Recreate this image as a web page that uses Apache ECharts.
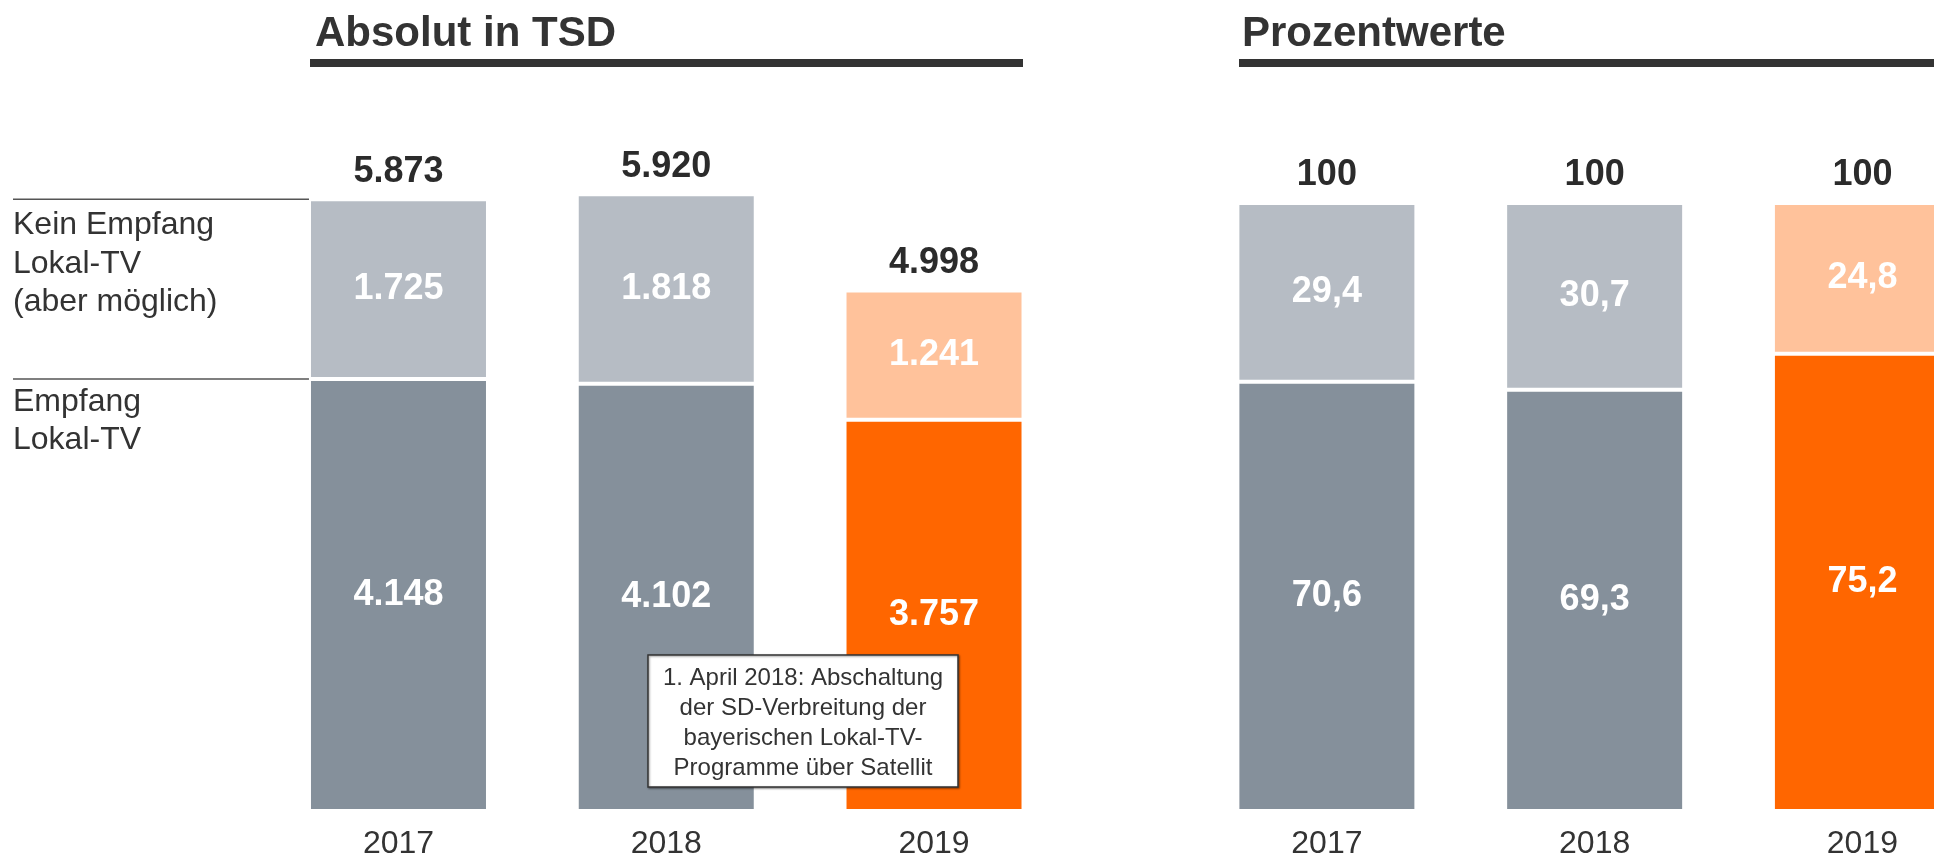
<!DOCTYPE html>
<html>
<head>
<meta charset="utf-8">
<script src="https://cdn.jsdelivr.net/npm/echarts@6/dist/echarts.min.js"></script>
<style>
  html, body { margin: 0; padding: 0; background: #fff; }
  #chart { width: 1934px; height: 857px; }
</style>
</head>
<body>
<div id="chart"></div>
<script>
const years = ['2017', '2018', '2019'];
const highlightYear = '2019';

const empfangAbs = [4148, 4102, 3757];
const keinAbs = [1725, 1818, 1241];
const totalAbs = [5873, 5920, 4998];

const empfangPct = [70.6, 69.3, 75.2];
const keinPct = [29.4, 30.7, 24.8];
const totalPct = [100, 100, 100];

const legendLabels = ['Kein Empfang\nLokal-TV\n(aber möglich)', 'Empfang\nLokal-TV'];
const noteText = '1. April 2018: Abschaltung\nder SD-Verbreitung der\nbayerischen Lokal-TV-\nProgramme über Satellit';

const colors = {
  grayLight: '#b6bcc4',
  grayDark: '#85909b',
  orangeLight: '#ffc29b',
  orange: '#ff6600',
  text: '#333333'
};
const font = 'Liberation Sans, Arial, sans-serif';
const barW = 179;

const fmtAbs = v => String(v).replace(/\B(?=(\d{3})+(?!\d))/g, '.');
const fmtPct = v => (Number.isInteger(v) ? String(v) : v.toFixed(1).replace('.', ','));

function segData(values, light) {
  return values.map((v, i) => ({
    value: v,
    itemStyle: {
      color: years[i] === highlightYear
        ? (light ? colors.orangeLight : colors.orange)
        : (light ? colors.grayLight : colors.grayDark)
    }
  }));
}

function stackSeries(idx, bottom, top, total, fmt) {
  const common = {
    type: 'bar',
    stack: 's' + idx,
    xAxisIndex: idx,
    yAxisIndex: idx,
    barWidth: barW,
    animation: false,
    label: {
      show: true,
      position: 'inside',
      color: '#fff',
      fontSize: 36,
      fontWeight: 'bold',
      fontFamily: font,
      formatter: p => fmt(p.value)
    }
  };
  return [
    Object.assign({}, common, {
      name: 'Empfang',
      data: segData(bottom, false),
      itemStyle: { borderColor: '#fff', borderWidth: 2 }
    }),
    Object.assign({}, common, {
      name: 'Kein Empfang',
      data: segData(top, true),
      itemStyle: { borderColor: '#fff', borderWidth: 2 }
    }),
    {
      type: 'scatter',
      xAxisIndex: idx,
      yAxisIndex: idx,
      data: total,
      symbolSize: 1,
      itemStyle: { color: 'rgba(255,255,255,0)' },
      animation: false,
      label: {
        show: true,
        position: 'top',
        distance: 9,
        color: '#2b2b2b',
        opacity: 1,
        fontSize: 36,
        fontWeight: 'bold',
        fontFamily: font,
        formatter: p => fmt(p.value)
      }
    }
  ];
}

const xAxisBase = {
  type: 'category',
  data: years,
  axisLine: { show: false },
  axisTick: { show: false },
  axisLabel: { color: colors.text, fontSize: 32, fontFamily: font, margin: 17 }
};
const yAxisBase = { type: 'value', min: 0, show: false, splitLine: { show: false } };

const chart = echarts.init(document.getElementById('chart'));
chart.setOption({
  backgroundColor: '#fff',
  title: [
    { text: 'Absolut in TSD', left: 310, top: 8,
      textStyle: { fontSize: 42, fontWeight: 'bold', color: colors.text, fontFamily: font } },
    { text: 'Prozentwerte', left: 1237, top: 8,
      textStyle: { fontSize: 42, fontWeight: 'bold', color: colors.text, fontFamily: font } }
  ],
  grid: [
    { left: 264.6, width: 803.3, top: 186, bottom: 46, outerBoundsMode: 'none', containLabel: false },
    { left: 1193, width: 803.3, top: 203, bottom: 46, outerBoundsMode: 'none', containLabel: false }
  ],
  xAxis: [
    Object.assign({ gridIndex: 0 }, xAxisBase),
    Object.assign({ gridIndex: 1 }, xAxisBase)
  ],
  yAxis: [
    Object.assign({ gridIndex: 0, max: 6000 }, yAxisBase),
    Object.assign({ gridIndex: 1, max: 100 }, yAxisBase)
  ],
  series: [].concat(
    stackSeries(0, empfangAbs, keinAbs, totalAbs, fmtAbs),
    stackSeries(1, empfangPct, keinPct, totalPct, fmtPct)
  )
});

// leader lines + labels on the left, aligned to the 2017 bar segments
const topY = chart.convertToPixel({ gridIndex: 0 }, [0, totalAbs[0]])[1];
const sepY = chart.convertToPixel({ gridIndex: 0 }, [0, empfangAbs[0]])[1];
const barLeft = chart.convertToPixel({ gridIndex: 0 }, [0, 0])[0] - barW / 2;

chart.setOption({
  graphic: [
    { type: 'rect', shape: { x: 310, y: 59, width: 713, height: 8 }, style: { fill: colors.text } },
    { type: 'rect', shape: { x: 1239, y: 59, width: 700, height: 8 }, style: { fill: colors.text } },
    { type: 'line', shape: { x1: 13, y1: topY, x2: barLeft, y2: topY },
      style: { stroke: '#555', lineWidth: 1.5 } },
    { type: 'line', shape: { x1: 13, y1: sepY, x2: barLeft, y2: sepY },
      style: { stroke: '#555', lineWidth: 1.5 } },
    { type: 'text', x: 13, y: topY + 7,
      style: { text: legendLabels[0], fill: colors.text, fontSize: 32, lineHeight: 38.5, fontFamily: font } },
    { type: 'text', x: 13, y: sepY + 4,
      style: { text: legendLabels[1], fill: colors.text, fontSize: 32, lineHeight: 38.5, fontFamily: font } },
    { type: 'rect', z: 100, shape: { x: 648, y: 655, width: 310, height: 132 },
      style: { fill: '#fff', stroke: '#333', lineWidth: 1.5,
        shadowBlur: 2, shadowOffsetX: 1, shadowOffsetY: 1, shadowColor: 'rgba(0,0,0,0.4)' } },
    { type: 'text', z: 101, x: 803, y: 723,
      style: { text: noteText, fill: colors.text, fontSize: 24, lineHeight: 30,
        fontFamily: font, align: 'center', verticalAlign: 'middle' } }
  ]
});
</script>
</body>
</html>
